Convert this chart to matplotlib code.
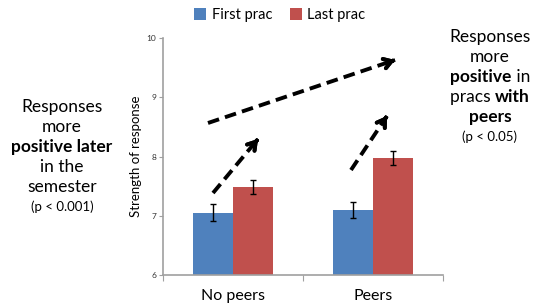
import numpy as np
import matplotlib.pyplot as plt
from matplotlib.lines import Line2D

plt.rcParams['font.family'] = ['Lato', 'DejaVu Sans']

groups = ['No peers', 'Peers']
series = ['First prac', 'Last prac']
first_prac = [7.05, 7.10]
last_prac = [7.49, 7.98]
first_err = [0.14, 0.13]
last_err = [0.12, 0.12]
colors = ['#4F81BD', '#C0504D']

fig = plt.figure(figsize=(5.43, 3.07), dpi=100)
ax = fig.add_axes([163/543, 1-275/307, 280/543, 237/307])

x = np.arange(len(groups))
w = 40/140
ekw = dict(ecolor='black', capsize=2, elinewidth=1, capthick=1)
ax.bar(x - w/2, first_prac, w, color=colors[0], label=series[0], yerr=first_err, error_kw=ekw)
ax.bar(x + w/2, last_prac, w, color=colors[1], label=series[1], yerr=last_err, error_kw=ekw)

ax.set_ylim(6, 10)
ax.set_xlim(-0.5, 1.5)
ax.set_yticks([6, 7, 8, 9, 10])
ax.tick_params(axis='y', labelsize=6, length=3, color='#A0A0A0', labelcolor='#333333', pad=2)
ax.set_xticks([-0.5, 0.5, 1.5])
ax.set_xticklabels([])
ax.set_xticks(x, minor=True)
ax.set_xticklabels(groups, minor=True, fontsize=11.5)
ax.tick_params(axis='x', which='major', length=4, color='#A0A0A0')
ax.tick_params(axis='x', which='minor', length=0, pad=10)
for s in ['top', 'right']:
    ax.spines[s].set_visible(False)
for s in ['left', 'bottom']:
    ax.spines[s].set_color('#A0A0A0')
    ax.spines[s].set_linewidth(1.2)
ax.set_ylabel('Strength of response', fontsize=9.5, labelpad=3)

fig.legend(loc='center', bbox_to_anchor=(280/543, 1-15/307), ncol=2, frameon=False,
           fontsize=10.5, handlelength=0.8, handleheight=0.8, handletextpad=0.4,
           columnspacing=1.2)

# dashed arrows (figure pixel coordinates, y from top), solid open heads
arrows = [((208, 123), (395, 60)), ((213, 193), (258, 139)), ((351, 170), (387, 116))]
for (x0, y0), (x1, y1) in arrows:
    fx = [x0/543, x1/543]
    fy = [1-y0/307, 1-y1/307]
    fig.add_artist(Line2D(fx, fy, transform=fig.transFigure, color='black', lw=2.8,
                          ls=(0, (3, 1.6)), solid_capstyle='butt'))
    d = np.hypot(x1-x0, y1-y0)
    bx, by = x1 - (x1-x0)/d*2, y1 - (y1-y0)/d*2
    fig.add_artist(plt.annotate('', xy=(fx[1], fy[1]), xytext=(bx/543, 1-by/307),
                                xycoords='figure fraction', textcoords='figure fraction',
                                arrowprops=dict(arrowstyle='->,head_length=0.55,head_width=0.35',
                                                lw=2.8, color='black', shrinkA=0, shrinkB=0)))

# text blocks, mixed bold/normal on one line
r = fig.canvas.get_renderer()
def block(cx, lines, y_top, step):
    y = y_top
    for parts, size in lines:
        widths = []
        for p, b in parts:
            tt = fig.text(0, 0, p, fontsize=size, fontweight='bold' if b else 'normal')
            widths.append(tt.get_window_extent(renderer=r).width)
            tt.remove()
        xs = cx - sum(widths)/2
        for (p, b), wd in zip(parts, widths):
            fig.text(xs/543, 1-y/307, p, fontsize=size, fontweight='bold' if b else 'normal',
                     ha='left', va='center')
            xs += wd
        y += step

fs = 12.5
left_lines = [([('Responses', False)], fs), ([('more', False)], fs),
              ([('positive later', True)], fs), ([('in the', False)], fs),
              ([('semester', False)], fs), ([('(p < 0.001)', False)], 9.5)]
right_lines = [([('Responses', False)], fs), ([('more', False)], fs),
               ([('positive', True), (' in', False)], fs),
               ([('pracs ', False), ('with', True)], fs),
               ([('peers', True)], fs), ([('(p < 0.05)', False)], 9.5)]
block(62, left_lines, 107, 20)
block(490, right_lines, 37, 20)

fig.savefig('out.png', dpi=100)
